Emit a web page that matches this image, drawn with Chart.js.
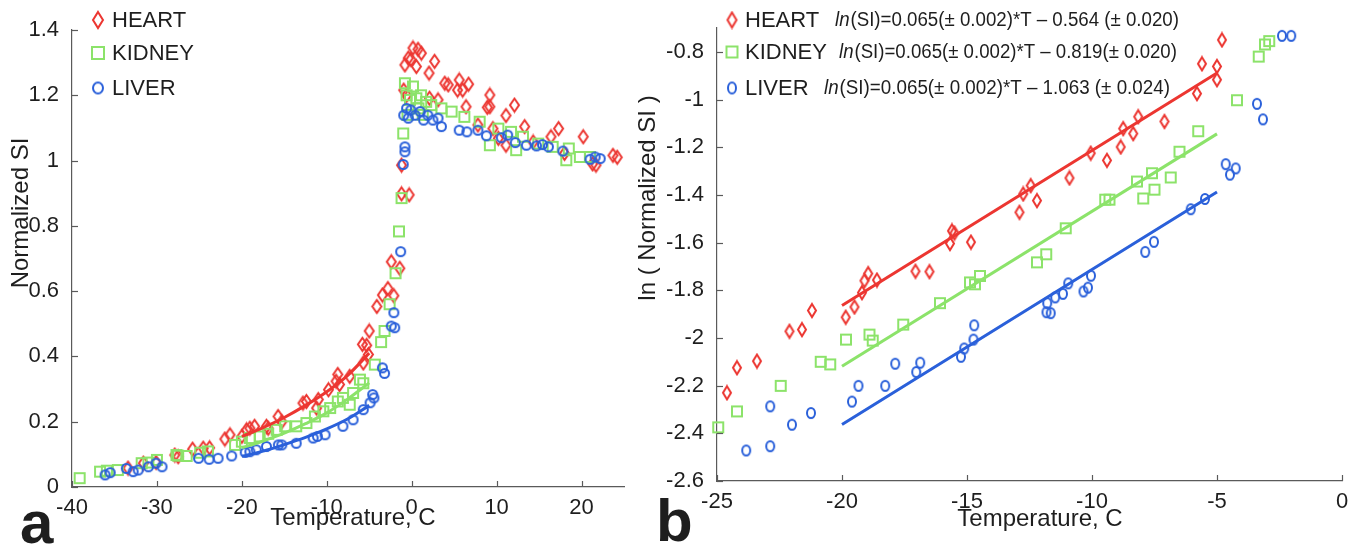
<!DOCTYPE html>
<html>
<head>
<meta charset="utf-8">
<script src="https://cdn.jsdelivr.net/npm/chart.js@4.4.1/dist/chart.umd.min.js"></script>
<style>
  body { margin: 0; background: #fff; }
  #wrap { position: relative; width: 1365px; height: 550px; }
  #wrap canvas { position: absolute; left: 0; top: 0; }
</style>
</head>
<body>
<div id="wrap">
  <canvas id="chartA" width="1365" height="550"></canvas>
  <canvas id="chartB" width="1365" height="550"></canvas>
</div>
<script>
// ---- panel a: normalized SI vs temperature ----
const xTicksA = [-40, -30, -20, -10, 0, 10, 20];
const yTicksA = [0, 0.2, 0.4, 0.6, 0.8, 1, 1.2, 1.4];

const heartA = [[-33.4,0.058],[-31.6,0.073],[-30.1,0.075],[-27.9,0.098],[-27.5,0.093],[-25.8,0.116],[-24.55,0.119],[-23.8,0.12],
  [-22.0,0.147],[-21.4,0.16],[-20.0,0.155],[-19.45,0.175],[-19.06,0.18],[-18.5,0.186],[-17.1,0.186],[-16.9,0.18],[-15.73,0.216],
  [-15.3,0.2],[-12.8,0.257],[-12.4,0.262],[-11.2,0.242],[-11.0,0.268],[-9.8,0.298],[-8.9,0.324],[-8.7,0.345],[-8.5,0.314],
  [-7.3,0.339],[-5.8,0.437],[-5.7,0.38],[-5.3,0.434],[-5.1,0.406],[-5.0,0.478],[-4.1,0.553],[-3.45,0.588],[-2.8,0.608],
  [-2.4,0.69],[-2.1,0.586],[-1.4,0.67],[-1.2,0.898],[-1.2,0.986],[-0.3,0.895],[-0.94,1.216],[-0.8,1.293],[-0.6,1.2],
  [-0.4,1.314],[-0.1,1.31],[0.15,1.345],[0.55,1.288],[0.75,1.341],[1.14,1.329],[2.04,1.268],[2.1,1.191],[2.7,1.304],
  [3.1,1.186],[3.9,1.237],[4.3,1.232],[5.4,1.216],[5.6,1.247],[6.0,1.216],[6.4,1.165],[6.7,1.234],[7.8,1.109],[8.9,1.163],
  [9.2,1.201],[9.2,1.165],[9.56,1.098],[10.2,1.068],[11.1,1.138],[11.1,1.047],[12.1,1.17],[13.3,1.104],[14.3,1.057],
  [16.4,1.073],[17.3,1.098],[18.0,1.022],[20.2,1.073],[21.3,0.99],[21.7,0.986],[23.7,1.016],[24.2,1.01]];

const kidneyA = [[-39.1,0.027],[-36.7,0.047],[-35.9,0.05],[-34.6,0.052],[-31.8,0.073],[-31.0,0.075],[-30.0,0.083],[-27.7,0.098],
  [-27.5,0.096],[-26.5,0.095],[-24.9,0.105],[-24.0,0.109],[-20.8,0.129],[-20.0,0.139],[-19.06,0.15],[-17.9,0.155],[-16.9,0.163],
  [-15.9,0.175],[-14.9,0.186],[-13.6,0.186],[-12.4,0.196],[-11.4,0.216],[-10.4,0.232],[-9.6,0.242],[-8.7,0.262],[-8.1,0.273],
  [-7.3,0.252],[-6.9,0.288],[-6.1,0.329],[-5.7,0.318],[-4.35,0.375],[-3.6,0.444],[-3.2,0.478],[-2.6,0.56],[-1.9,0.655],
  [-1.5,0.783],[-1.2,0.885],[-1.0,1.083],[-0.8,1.237],[-0.6,1.2],[-0.5,1.14],[-0.2,1.186],[0.15,1.227],[0.55,1.191],
  [0.8,1.16],[1.1,1.2],[1.3,1.14],[1.7,1.18],[2.3,1.17],[3.5,1.16],[4.7,1.15],[6.2,1.134],[8.0,1.119],[9.2,1.047],
  [10.2,1.098],[11.7,1.088],[12.3,1.032],[13.1,1.073],[14.9,1.052],[16.6,1.042],[18.2,1.001],[18.5,1.037],[19.8,1.011],[21.0,1.011]];

const liverA = [[-36.1,0.037],[-35.5,0.044],[-33.6,0.057],[-32.8,0.047],[-32.2,0.052],[-31.0,0.062],[-30.1,0.073],[-29.4,0.062],
  [-25.1,0.088],[-23.85,0.085],[-22.8,0.088],[-21.2,0.095],[-19.6,0.106],[-19.06,0.108],[-18.3,0.114],[-17.1,0.124],
  [-15.7,0.129],[-15.3,0.129],[-13.6,0.134],[-11.6,0.15],[-11.1,0.155],[-10.2,0.16],[-8.1,0.186],[-6.9,0.206],[-5.7,0.237],
  [-4.9,0.258],[-4.6,0.283],[-4.45,0.273],[-3.45,0.365],[-3.2,0.348],[-2.4,0.493],[-2.1,0.534],[-2.0,0.488],[-1.3,0.721],
  [-1.0,0.988],[-0.8,1.027],[-0.8,1.042],[-0.94,1.139],[-0.6,1.16],[-0.4,1.13],[-0.1,1.155],[0.4,1.139],[1.0,1.15],
  [1.4,1.124],[1.9,1.139],[2.5,1.124],[3.1,1.13],[3.5,1.104],[5.6,1.093],[6.5,1.088],[7.8,1.093],[8.8,1.076],[10.55,1.07],
  [11.3,1.078],[12.2,1.055],[13.5,1.047],[14.7,1.045],[15.4,1.049],[16.1,1.042],[17.8,1.029],[21.0,1.004],[21.6,1.011],[22.2,1.006]];

// fitted curves
const fitTempA = [-20, -17.5, -15, -12.5, -10, -7.5, -5];
const heartFitA = [0.155, 0.182, 0.213, 0.25, 0.292, 0.343, 0.41];
const kidneyFitA = [0.12, 0.141, 0.165, 0.194, 0.227, 0.27, 0.319];
const liverFitA = [0.094, 0.11, 0.13, 0.152, 0.178, 0.209, 0.25];

// ---- panel b: ln(normalized SI) vs temperature ----
const xTicksB = [-25, -20, -15, -10, -5, 0];
const yTicksB = [-2.6, -2.4, -2.2, -2, -1.8, -1.6, -1.4, -1.2, -1, -0.8];

const heartB = [[-24.6,-2.23],[-24.2,-2.125],[-23.4,-2.097],[-22.1,-1.972],[-21.6,-1.965],[-21.2,-1.885],[-19.85,-1.913],
  [-19.5,-1.87],[-19.2,-1.81],[-19.1,-1.76],[-18.95,-1.73],[-18.6,-1.757],[-17.06,-1.72],[-16.5,-1.722],[-15.68,-1.604],
  [-15.6,-1.551],[-15.5,-1.56],[-14.84,-1.598],[-12.9,-1.473],[-12.75,-1.396],[-12.45,-1.361],[-12.2,-1.424],[-10.9,-1.329],
  [-10.05,-1.225],[-9.4,-1.255],[-8.85,-1.199],[-8.75,-1.122],[-8.35,-1.143],[-8.15,-1.072],[-7.1,-1.092],[-5.8,-0.975],
  [-5.6,-0.85],[-5.0,-0.861],[-5.0,-0.917],[-4.8,-0.75]];

const kidneyB = [[-24.95,-2.375],[-24.2,-2.308],[-22.45,-2.201],[-20.85,-2.1],[-20.47,-2.111],[-19.84,-2.007],[-18.9,-1.986],
  [-18.77,-2.011],[-17.55,-1.944],[-16.08,-1.854],[-14.88,-1.767],[-14.68,-1.775],[-14.48,-1.74],[-12.2,-1.683],[-11.83,-1.649],
  [-11.05,-1.54],[-9.47,-1.42],[-9.3,-1.42],[-8.2,-1.344],[-7.95,-1.415],[-7.6,-1.309],[-7.5,-1.378],[-6.85,-1.327],
  [-6.5,-1.219],[-5.75,-1.133],[-4.2,-1.003],[-3.33,-0.82],[-3.08,-0.769],[-2.91,-0.755]];

const liverB = [[-23.83,-2.472],[-22.87,-2.287],[-22.87,-2.454],[-22.0,-2.364],[-21.24,-2.315],[-19.6,-2.267],[-19.34,-2.201],
  [-18.27,-2.201],[-17.87,-2.108],[-17.03,-2.143],[-16.87,-2.104],[-15.24,-2.079],[-15.11,-2.044],[-14.74,-2.007],
  [-14.71,-1.947],[-11.82,-1.892],[-11.65,-1.896],[-11.79,-1.854],[-11.47,-1.83],[-11.16,-1.815],[-10.95,-1.771],
  [-10.34,-1.805],[-10.16,-1.789],[-10.04,-1.739],[-7.87,-1.639],[-7.52,-1.597],[-6.05,-1.46],[-5.48,-1.417],
  [-4.65,-1.271],[-4.48,-1.315],[-4.25,-1.289],[-3.4,-1.018],[-3.16,-1.083],[-2.4,-0.733],[-2.03,-0.733]];

const fitTempB = [-20, -5];
const heartFitB = [-1.864, -0.889];
const kidneyFitB = [-2.119, -1.144];
const liverFitB = [-2.363, -1.388];

const organs = ['HEART', 'KIDNEY', 'LIVER'];
const fitText = [
  '=0.065(\u00b1 0.002)*T \u2013 0.564 (\u00b1 0.020)',
  '=0.065(\u00b1 0.002)*T \u2013 0.819(\u00b1 0.020)',
  '=0.065(\u00b1 0.002)*T \u2013 1.063 (\u00b1 0.024)'
];

const RED = '#ec3631';
const GREEN = '#8ce36a';
const BLUE = '#2a60da';
const AXIS = '#5a5a5a';
const INK = '#1e1e1e';
const FONT = '"Liberation Sans", Arial, sans-serif';

Chart.defaults.font.family = FONT;
Chart.defaults.color = INK;

// hollow marker images (MATLAB style)
function marker(shape, w, h, color) {
    const c = document.createElement('canvas');
    c.width = w + 4;
    c.height = h + 4;
    const g = c.getContext('2d');
    const cx = c.width / 2, cy = c.height / 2;
    g.strokeStyle = color;
    g.lineWidth = 2;
    g.beginPath();
    if (shape === 'diamond') {
        g.moveTo(cx, cy - h / 2);
        g.lineTo(cx + w / 2, cy);
        g.lineTo(cx, cy + h / 2);
        g.lineTo(cx - w / 2, cy);
        g.closePath();
    } else if (shape === 'square') {
        g.rect(cx - w / 2, cy - h / 2, w, h);
    } else {
        g.ellipse(cx, cy, w / 2, h / 2, 0, 0, Math.PI * 2);
    }
    g.stroke();
    return c;
}

const markersA = [marker('diamond', 9, 13, RED), marker('square', 10, 10, GREEN), marker('circle', 9, 9, BLUE)];
const markersB = [marker('diamond', 8, 13, RED), marker('square', 10, 10, GREEN), marker('circle', 8, 10, BLUE)];
const legendMarksA = [marker('diamond', 10, 16, RED), marker('square', 12, 12, GREEN), marker('circle', 10, 11, BLUE)];
const legendMarksB = [marker('diamond', 9, 15, RED), marker('square', 11, 11, GREEN), marker('circle', 8, 11, BLUE)];

function scatterSet(pts, img, order) {
    return {
        data: pts.map(p => ({ x: p[0], y: p[1] })),
        pointStyle: img,
        pointRadius: 5,
        showLine: false,
        clip: false,
        order: order
    };
}

function fitSet(temps, vals, color) {
    return {
        data: temps.map((t, i) => ({ x: t, y: vals[i] })),
        showLine: true,
        borderColor: color,
        borderWidth: 3,
        pointRadius: 0,
        cubicInterpolationMode: 'monotone',
        order: 0
    };
}

function fmt(v) {
    return String(Math.round(v * 10) / 10);
}

function scales(xr, yr, xTicks, yTicks, yWidth, xHeight) {
    return {
        x: {
            type: 'linear', min: xr[0], max: xr[1],
            afterBuildTicks: s => { s.ticks = xTicks.map(v => ({ value: v })); },
            afterFit: s => { s.height = xHeight; },
            grid: { display: false },
            border: { display: true, color: AXIS, width: 1.2 },
            ticks: { font: { size: 22 }, padding: 0, maxRotation: 0, autoSkip: false, callback: fmt }
        },
        y: {
            type: 'linear', min: yr[0], max: yr[1],
            afterBuildTicks: s => { s.ticks = yTicks.map(v => ({ value: v })); },
            afterFit: s => { s.width = yWidth; },
            grid: { display: false },
            border: { display: true, color: AXIS, width: 1.2 },
            ticks: { font: { size: 22 }, padding: 5, autoSkip: false, callback: fmt }
        }
    };
}

// inward ticks, axis titles, legend and panel letter
const framePlugin = {
    id: 'frame',
    afterDraw(chart, args, opts) {
        const ctx = chart.ctx;
        const xs = chart.scales.x, ys = chart.scales.y;
        ctx.save();
        ctx.strokeStyle = AXIS;
        ctx.lineWidth = 1.2;
        xs.ticks.forEach(t => {
            const p = Math.round(xs.getPixelForValue(t.value)) + 0.5;
            ctx.beginPath();
            ctx.moveTo(p, xs.top);
            ctx.lineTo(p, xs.top - 6);
            ctx.stroke();
        });
        ys.ticks.forEach(t => {
            const p = Math.round(ys.getPixelForValue(t.value)) + 0.5;
            ctx.beginPath();
            ctx.moveTo(ys.right, p);
            ctx.lineTo(ys.right + 6, p);
            ctx.stroke();
        });

        ctx.fillStyle = INK;
        ctx.textAlign = 'center';
        ctx.textBaseline = 'middle';
        ctx.font = '24px ' + FONT;
        ctx.fillText('Temperature, C', opts.xTitle[0], opts.xTitle[1]);
        ctx.save();
        ctx.translate(opts.yTitle[0], opts.yTitle[1]);
        ctx.rotate(-Math.PI / 2);
        ctx.fillText(opts.yTitleText, 0, 0);
        ctx.restore();

        ctx.textAlign = 'left';
        ctx.textBaseline = 'alphabetic';
        ctx.font = 'bold 60px ' + FONT;
        ctx.fillText(opts.letter, opts.letterPos[0], opts.letterPos[1]);

        // legend rows
        ctx.textBaseline = 'middle';
        opts.rows.forEach((y, i) => {
            const img = opts.marks[i];
            ctx.drawImage(img, opts.markX - img.width / 2, y - img.height / 2);
            ctx.font = '22px ' + FONT;
            ctx.fillStyle = INK;
            ctx.fillText(organs[i], opts.textX, y + 1);
            if (opts.eqX) {
                // fit equation, squeezed to the reference width
                ctx.font = 'italic 20px ' + FONT;
                const w1 = ctx.measureText('ln').width;
                ctx.font = '20px ' + FONT;
                const rest = '(SI)' + fitText[i];
                const w2 = ctx.measureText(rest).width;
                const k = opts.eqW[i] / (w1 + w2);
                ctx.save();
                ctx.translate(opts.eqX[i], y);
                ctx.scale(k, 1);
                ctx.font = 'italic 20px ' + FONT;
                ctx.fillText('ln', 0, 0);
                ctx.font = '20px ' + FONT;
                ctx.fillText(rest, w1 + 1, 0);
                ctx.restore();
            }
        });
        ctx.restore();
    }
};

new Chart(document.getElementById('chartA'), {
    type: 'scatter',
    data: {
        datasets: [
            scatterSet(heartA, markersA[0], 3),
            scatterSet(kidneyA, markersA[1], 2),
            scatterSet(liverA, markersA[2], 1),
            fitSet(fitTempA, heartFitA, RED),
            fitSet(fitTempA, kidneyFitA, GREEN),
            fitSet(fitTempA, liverFitA, BLUE)
        ]
    },
    options: {
        responsive: false,
        animation: false,
        devicePixelRatio: 1,
        layout: { padding: { left: 0, top: 30, right: 741, bottom: 0 } },
        scales: scales([-40, 25], [0, 1.4], xTicksA, yTicksA, 72, 63),
        plugins: {
            legend: { display: false },
            tooltip: { enabled: false },
            frame: {
                xTitle: [353, 518],
                yTitle: [21, 213],
                yTitleText: 'Normalized SI',
                letter: 'a',
                letterPos: [20, 543],
                rows: [20, 53, 88],
                marks: legendMarksA,
                markX: 98,
                textX: 112
            }
        }
    },
    plugins: [framePlugin]
});

new Chart(document.getElementById('chartB'), {
    type: 'scatter',
    data: {
        datasets: [
            scatterSet(heartB, markersB[0], 3),
            scatterSet(kidneyB, markersB[1], 2),
            scatterSet(liverB, markersB[2], 1),
            fitSet(fitTempB, heartFitB, RED),
            fitSet(fitTempB, kidneyFitB, GREEN),
            fitSet(fitTempB, liverFitB, BLUE)
        ]
    },
    options: {
        responsive: false,
        animation: false,
        devicePixelRatio: 1,
        layout: { padding: { left: 600, top: 28, right: 23, bottom: 0 } },
        scales: scales([-25, 0], [-2.6, -0.7], xTicksB, yTicksB, 117, 69),
        plugins: {
            legend: { display: false },
            tooltip: { enabled: false },
            frame: {
                xTitle: [1040, 519],
                yTitle: [648, 198],
                yTitleText: 'ln ( Normalized SI )',
                letter: 'b',
                letterPos: [656, 541],
                rows: [20, 52, 88],
                marks: legendMarksB,
                markX: 732,
                textX: 745,
                eqX: [835, 839, 824],
                eqW: [343, 337, 345]
            }
        }
    },
    plugins: [framePlugin]
});
</script>
</body>
</html>
